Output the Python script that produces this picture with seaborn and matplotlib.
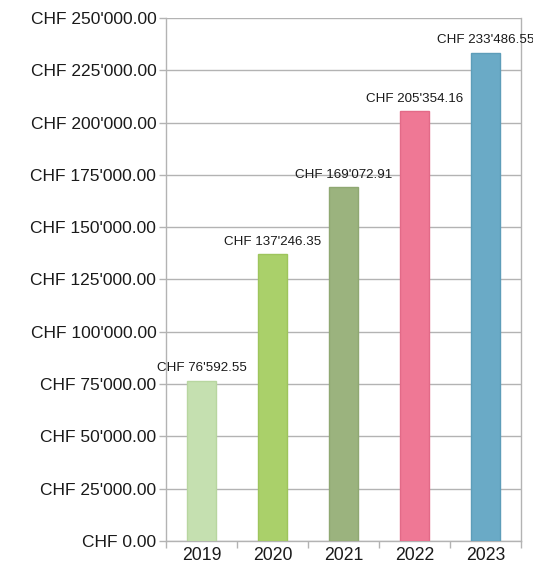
import pandas as pd
import seaborn as sns
import matplotlib.pyplot as plt

years = ['2019', '2020', '2021', '2022', '2023']
totals = [76592.55, 137246.35, 169072.91, 205354.16, 233486.55]
bar_colors = ['#c5e0b0', '#aad06a', '#9bb37e', '#ef7895', '#6aaac6']
edge_colors = ['#b8d6a0', '#9ec55c', '#8fa872', '#e36a88', '#5d9db9']


def chf(v):
    s = f"{v:,.2f}".replace(',', "'")
    return f"CHF {s}"


data = pd.DataFrame({'Year': years, 'Total': totals})

sns.set_style('white')
plt.rcParams['font.family'] = ['Liberation Sans', 'DejaVu Sans']

fig = plt.figure(figsize=(5.33, 5.62), dpi=100)
ax = fig.add_axes([0.3114, 0.0374, 0.6661, 0.9306])

sns.barplot(data=data, x='Year', y='Total', hue='Year', palette=bar_colors,
            saturation=1, legend=False, width=0.42, ax=ax, zorder=3)
for patch, ec in zip(ax.patches, edge_colors):
    patch.set_edgecolor(ec)
    patch.set_linewidth(1)

for i, v in enumerate(totals):
    ax.text(i, v + 3000, chf(v), ha='center', va='bottom', fontsize=9.6,
            color='#1a1a1a', zorder=4, clip_on=False)

ax.set_ylim(0, 250000)
ax.set_xlim(-0.5, 4.5)
yt = list(range(0, 250001, 25000))
ax.set_yticks(yt)
ax.set_yticklabels([chf(t) for t in yt], fontsize=12.5, color='#1a1a1a')
ax.set_xticks(range(5))
ax.set_xticklabels(years, fontsize=12.7, color='#1a1a1a')
ax.set_xticks([x - 0.5 for x in range(6)], minor=True)
ax.tick_params(axis='x', which='major', length=0, pad=4)
ax.tick_params(axis='x', which='minor', bottom=True, length=5,
               color='#b3b3b3', width=1)
ax.tick_params(axis='y', left=True, length=5, color='#b3b3b3', width=1, pad=2)
ax.set_xlabel('')
ax.set_ylabel('')

ax.yaxis.grid(True, color='#b3b3b3', linewidth=1, zorder=0)
ax.set_axisbelow(True)
for side in ['left', 'bottom', 'right']:
    ax.spines[side].set_color('#b3b3b3')
    ax.spines[side].set_linewidth(1)
ax.spines['top'].set_visible(False)

plt.savefig('out.png', dpi=100)
